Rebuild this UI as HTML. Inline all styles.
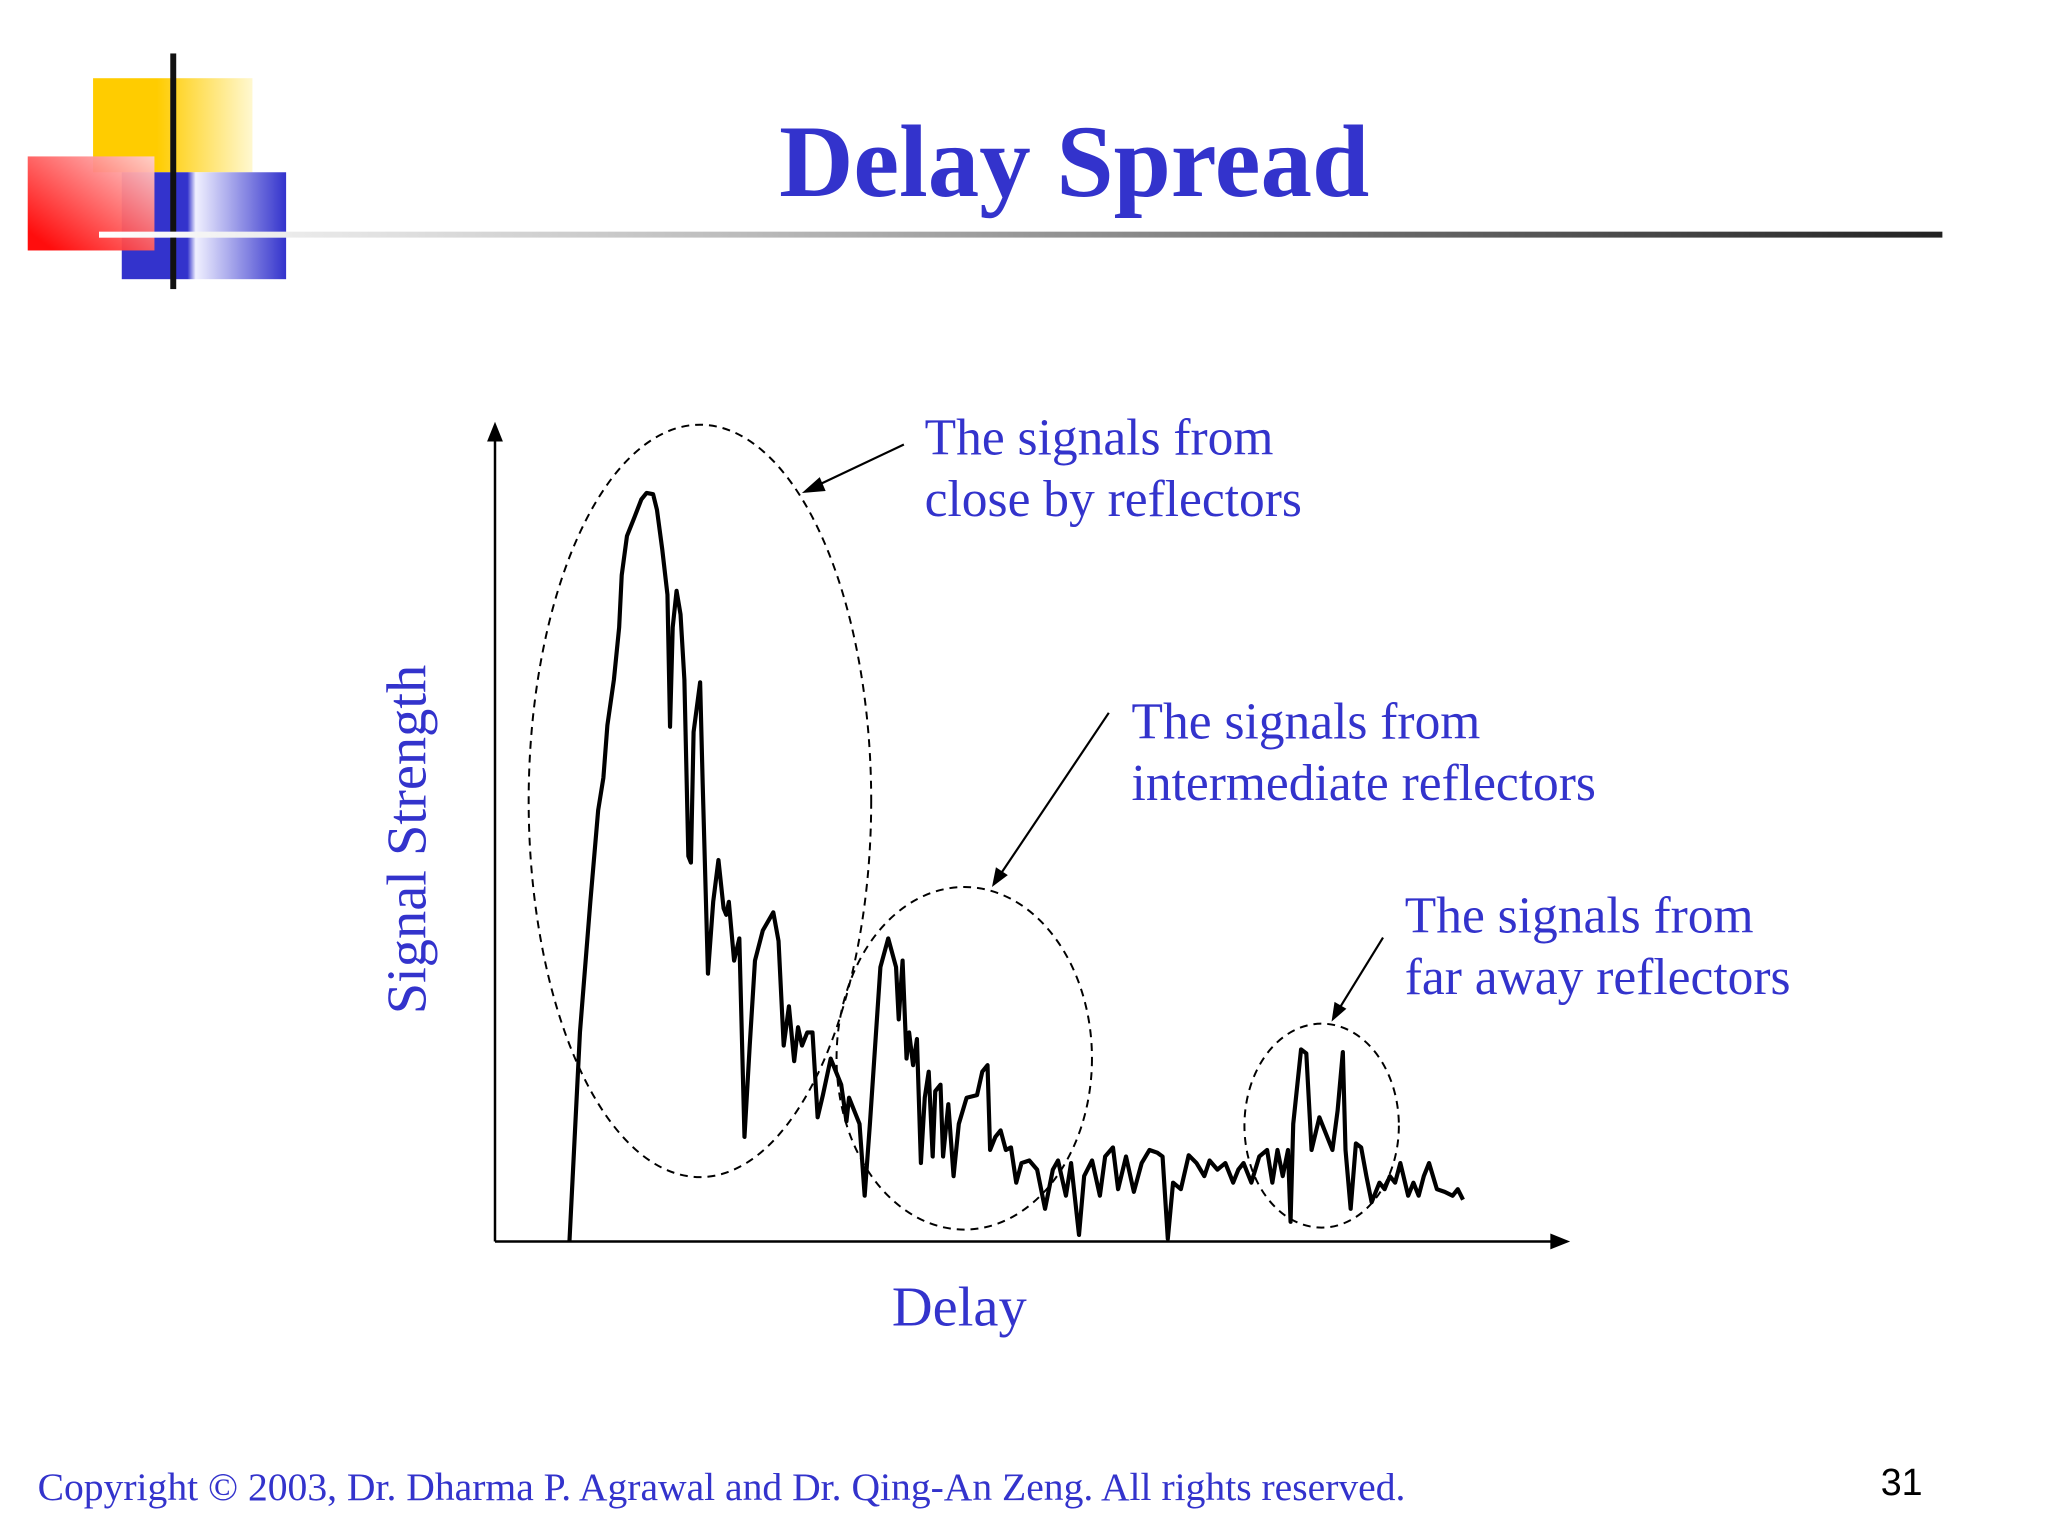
<!DOCTYPE html>
<html><head><meta charset="utf-8"><style>
html,body{margin:0;padding:0;background:#fff;}
svg{display:block;}
</style></head><body>
<svg id="slide" width="2048" height="1536" viewBox="0 0 2048 1536" xmlns="http://www.w3.org/2000/svg">
<defs>
<linearGradient id="rule" x1="0" x2="1" y1="0" y2="0"><stop offset="0" stop-color="#fff"/><stop offset="0.35" stop-color="#bbb"/><stop offset="1" stop-color="#222"/></linearGradient>
<linearGradient id="yel" x1="0" x2="1"><stop offset="0.4" stop-color="#ffcc00"/><stop offset="1" stop-color="#fff8d0"/></linearGradient>
<linearGradient id="red" x1="0" x2="1" y1="1" y2="0"><stop offset="0.1" stop-color="#ff0000"/><stop offset="1" stop-color="#ffd0d0"/></linearGradient>
<linearGradient id="blu" x1="0" x2="1"><stop offset="0.4" stop-color="#3333cc"/><stop offset="0.45" stop-color="#f0f0ff"/><stop offset="1" stop-color="#3333cc"/></linearGradient>
</defs>
<g transform="scale(0.99)">
<g>
<rect x="94" y="79" width="161" height="95" fill="url(#yel)"/>
<rect x="123" y="174" width="166" height="108" fill="url(#blu)"/>
<rect x="28" y="158" width="128" height="95" fill="url(#red)" opacity="0.95"/>
<rect x="100" y="235" width="190" height="5" fill="#fff"/>
<rect x="172" y="54" width="6" height="238" fill="#111"/>
</g>
<rect x="100" y="234" width="1862" height="6" fill="url(#rule)"/>
<text x="1085" y="198" text-anchor="middle" font-family="Liberation Serif, serif" font-weight="bold" font-size="104" fill="#3333cc">Delay Spread</text>

<g stroke="#000" stroke-width="2.5" fill="none">
<line x1="500" y1="1254" x2="500" y2="440"/>
<line x1="500" y1="1254" x2="1572" y2="1254"/>
</g>
<polygon points="500,426 492,446 508,446" fill="#000"/>
<polygon points="1586,1254 1566,1246 1566,1262" fill="#000"/>

<g fill="none" stroke="#000" stroke-width="2" stroke-dasharray="8,6">
<ellipse cx="707" cy="809" rx="173" ry="380"/>
<ellipse cx="974" cy="1069" rx="129" ry="173"/>
<ellipse cx="1335" cy="1137" rx="78" ry="103"/>
</g>

<path id="signal" fill="none" stroke="#000" stroke-width="4.2" stroke-linejoin="round"/>

<g stroke="#000" stroke-width="2.2" fill="#000">
<line x1="913" y1="449" x2="822" y2="492"/>
<polygon points="810,498 828,482 834,496" stroke="none"/>
<line x1="1120" y1="720" x2="1010" y2="884"/>
<polygon points="1002,896 1006,876 1018,884" stroke="none"/>
<line x1="1397" y1="947" x2="1352" y2="1020"/>
<polygon points="1345,1032 1348,1012 1360,1019" stroke="none"/>
</g>

<g font-family="Liberation Serif, serif" font-size="52" fill="#3333cc">
<text x="934" y="459">The signals from<tspan x="934" dy="62">close by reflectors</tspan></text>
<text x="1143" y="746">The signals from<tspan x="1143" dy="62">intermediate reflectors</tspan></text>
<text x="1419" y="942">The signals from<tspan x="1419" dy="62">far away reflectors</tspan></text>
<text transform="translate(430,848) rotate(-90)" text-anchor="middle" font-size="57">Signal Strength</text>
<text x="969" y="1339" text-anchor="middle" font-size="57">Delay</text>
<text x="38" y="1515" font-size="40">Copyright © 2003, Dr. Dharma P. Agrawal and Dr. Qing-An Zeng. All rights reserved.</text>
</g>
<text x="1942" y="1510" text-anchor="end" font-family="Liberation Sans, sans-serif" font-size="38" fill="#000">31</text>
</g>
</svg>
<script>
const delays = [57,61,65,67,73,79,83,86,91,95,97,101,107,112,116,121,124,128,132,134,136,139,142,145,148,150,152,157,159,163,167,171,175,177,179,183,187,191,195,199,205,213,217,221,225,229,232,235,239,243,247,251,257,261,265,269,271,275,279,283,287,291,295,301,307,309,312,315,317,320,323,326,329,332,335,337,341,343,347,351,355,361,369,373,377,379,383,387,391,395,399,403,409,415,421,427,431,437,441,447,451,457,463,467,473,477,483,489,495,501,507,511,515,519,525,531,537,543,547,553,559,565,569,573,579,585,591,595,599,603,607,609,611,617,621,625,631,637,641,645,649,651,655,659,663,667,671,677,681,685,689,693,699,703,707,711,715,721,727,733,737,741];
const strength = [0,80,160,185,260,330,355,395,430,470,510,540,555,568,573,572,560,530,495,394,470,498,480,430,295,290,390,428,350,205,260,292,255,250,260,215,232,80,150,215,238,252,230,150,180,138,164,150,160,160,95,112,140,130,120,92,110,100,90,35,90,150,210,232,210,170,215,140,160,135,155,60,110,130,65,115,120,65,105,50,90,110,112,130,135,70,80,85,70,72,45,60,62,55,25,55,62,35,60,5,50,62,35,65,72,40,65,38,60,70,68,65,2,45,40,66,60,50,62,55,60,45,55,60,45,65,70,45,70,50,70,15,90,147,144,70,95,80,70,100,145,70,25,75,72,50,30,45,40,50,45,60,35,45,35,50,60,40,38,35,40,32,35];
const SX = 1.3196, X0 = 500, Y0 = 1254;
function xScale(d){ return X0 + d * SX; }
function yScale(v){ return Y0 - v * SX; }
let d = '';
for (let i = 0; i < delays.length; i++) {
  d += (i ? 'L' : 'M') + xScale(delays[i]).toFixed(1) + ',' + yScale(strength[i]).toFixed(1);
}
document.getElementById('signal').setAttribute('d', d);
</script>
</body></html>
